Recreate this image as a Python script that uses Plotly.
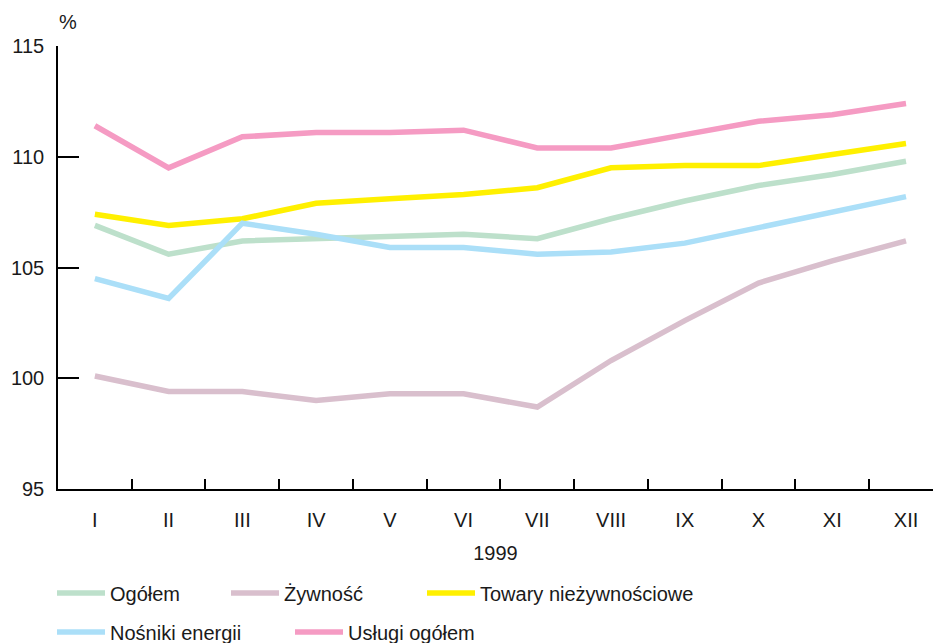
import plotly.graph_objects as go

months = ["I", "II", "III", "IV", "V", "VI", "VII", "VIII", "IX", "X", "XI", "XII"]
ogolem = [106.9, 105.6, 106.2, 106.3, 106.4, 106.5, 106.3, 107.2, 108.0, 108.7, 109.2, 109.8]
zywnosc = [100.1, 99.4, 99.4, 99.0, 99.3, 99.3, 98.7, 100.8, 102.6, 104.3, 105.3, 106.2]
towary = [107.4, 106.9, 107.2, 107.9, 108.1, 108.3, 108.6, 109.5, 109.6, 109.6, 110.1, 110.6]
nosniki = [104.5, 103.6, 107.0, 106.5, 105.9, 105.9, 105.6, 105.7, 106.1, 106.8, 107.5, 108.2]
uslugi = [111.4, 109.5, 110.9, 111.1, 111.1, 111.2, 110.4, 110.4, 111.0, 111.6, 111.9, 112.4]

series = [
    ("Ogółem", ogolem, "#bde0cb", "legend"),
    ("Żywność", zywnosc, "#d9bfcd", "legend2"),
    ("Towary nieżywnościowe", towary, "#fff000", "legend3"),
    ("Nośniki energii", nosniki, "#abdff8", "legend4"),
    ("Usługi ogółem", uslugi, "#f59bc3", "legend5"),
]

FONT = "Liberation Sans, Arial, sans-serif"
TXT = "#1a1a1a"
FS = 20

W, H = 933, 643
L, R, T, B = 58, 0, 46, 154
PW, PH = W - L - R, H - T - B

fig = go.Figure()
for name, vals, col, leg in series:
    fig.add_trace(go.Scatter(
        x=months, y=vals, name=name, mode="lines",
        line=dict(color=col, width=5.5), legend=leg,
    ))


def legpos(px, py):
    return dict(x=px / W, y=1 - py / H, xref="container", yref="container",
                xanchor="left", yanchor="middle", orientation="h",
                bgcolor="rgba(0,0,0,0)", borderwidth=0, itemwidth=48,
                font=dict(family=FONT, size=FS, color=TXT))


fig.update_layout(
    width=W, height=H,
    margin=dict(l=L, r=R, t=T, b=B),
    paper_bgcolor="white", plot_bgcolor="white",
    font=dict(family=FONT, size=FS, color=TXT),
    showlegend=True,
    legend=legpos(52, 593),
    legend2=legpos(226, 593),
    legend3=legpos(422, 593),
    legend4=legpos(52, 632),
    legend5=legpos(290, 632),
    xaxis=dict(
        type="category", range=[-0.5, 11.366],
        showline=True, linecolor="black", linewidth=1.5,
        ticks="inside", ticklen=10, tickwidth=1.5, tickcolor="black",
        tickson="boundaries", showgrid=False, zeroline=False,
        ticklabelstandoff=12,
        title=dict(text="1999", standoff=16, font=dict(family=FONT, size=FS, color=TXT)),
        fixedrange=True,
    ),
    yaxis=dict(
        range=[95, 115], tickvals=[95, 100, 105, 110, 115],
        showline=True, linecolor="black", linewidth=1.5,
        ticks="inside", ticklen=21, tickwidth=1.5, tickcolor="black",
        showgrid=False, zeroline=False, ticklabelstandoff=8,
        fixedrange=True,
    ),
    annotations=[dict(text="%", x=(68 - L) / PW, y=(H - B - 22) / PH, xref="paper", yref="paper",
                      showarrow=False, xanchor="center", yanchor="middle",
                      font=dict(family=FONT, size=FS, color=TXT))],
)

fig.write_html("out.html", config={"displayModeBar": False},
               post_script="document.body.style.margin='0';document.body.style.overflow='hidden';")
